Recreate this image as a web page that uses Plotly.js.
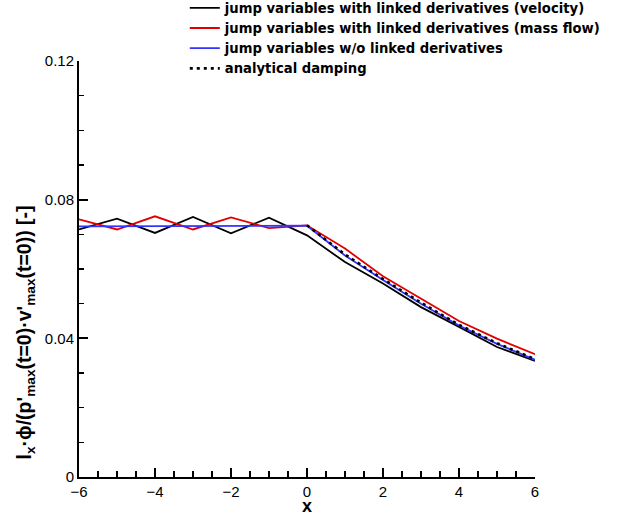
<!DOCTYPE html>
<html>
<head>
<meta charset="utf-8">
<script src="https://cdn.plot.ly/plotly-3.0.1.min.js"></script>
<style>html,body{margin:0;padding:0;background:#fff;}#chart{width:621px;height:516px;}</style>
</head>
<body>
<div id="chart"></div>
<script>
// x positions
const xFull = [-6, -5, -4, -3, -2, -1, 0, 1, 2, 3, 4, 5, 6];
const xRight = [0, 1, 2, 3, 4, 5, 6];

// series values
const velocity = [0.0714, 0.0745, 0.0704, 0.0750, 0.0703, 0.0748, 0.0697, 0.0620, 0.0558, 0.0490, 0.0433, 0.0375, 0.0335];
const massFlow = [0.0743, 0.0714, 0.0752, 0.0714, 0.0749, 0.0718, 0.0726, 0.0659, 0.0579, 0.0515, 0.0450, 0.0399, 0.0354];
const noLinked = [0.0723, 0.0723, 0.0723, 0.0723, 0.0723, 0.0724, 0.0725, 0.0639, 0.0568, 0.0500, 0.0437, 0.0384, 0.0338];
const analytical = [0.0726, 0.0642, 0.0571, 0.0503, 0.0439, 0.0386, 0.0340];

// labels
const seriesNames = [
  'jump variables with linked derivatives (velocity)',
  'jump variables with linked derivatives (mass flow)',
  'jump variables w/o linked derivatives',
  'analytical damping'
];
const xTitle = 'x';
const yTitle = "l<sub>x</sub>·ɸ/(p'<sub>max</sub>(t=0)·v'<sub>max</sub>(t=0)) [-]";

const font = 'Liberation Sans, Arial, sans-serif';

const traces = [
  {x: xFull, y: velocity, name: seriesNames[0], mode: 'lines', line: {color: '#000000', width: 1.8}},
  {x: xFull, y: massFlow, name: seriesNames[1], mode: 'lines', line: {color: '#e00000', width: 1.8}},
  {x: xFull, y: noLinked, name: seriesNames[2], mode: 'lines', line: {color: '#3333ff', width: 1.8}},
  {x: xRight, y: analytical, name: seriesNames[3], mode: 'lines', line: {color: '#000000', width: 2.6, dash: '3px,4px'}}
];

const layout = {
  width: 621, height: 516,
  margin: {l: 79, r: 86, t: 61, b: 39, pad: 0, autoexpand: false},
  paper_bgcolor: '#ffffff', plot_bgcolor: '#ffffff',
  font: {family: font, color: '#000', size: 14},
  showlegend: true,
  legend: {
    x: 0.232, y: 1.164, xanchor: 'left', yanchor: 'top',
    font: {family: 'DejaVu Sans, sans-serif', size: 13.2, color: '#000', weight: 'bold'},
    bgcolor: 'rgba(0,0,0,0)', borderwidth: 0,
    tracegroupgap: 0, itemwidth: 30
  },
  xaxis: {
    range: [-6, 6], showgrid: false, zeroline: false,
    showline: true, linecolor: '#000', linewidth: 2,
    tickmode: 'linear', tick0: -6, dtick: 2,
    ticks: 'inside', ticklen: 9, tickwidth: 2, tickcolor: '#000',
    tickfont: {family: font, size: 15, color: '#000'},
    minor: {tickmode: 'linear', tick0: -6, dtick: 0.5, ticks: 'inside', ticklen: 6, tickwidth: 1.3, tickcolor: '#000', showgrid: false},
    title: {text: xTitle, font: {family: font, size: 18, color: '#000', weight: 'bold'}, standoff: 0}
  },
  yaxis: {
    range: [0, 0.12], showgrid: false, zeroline: false,
    showline: true, linecolor: '#000', linewidth: 2,
    tickmode: 'linear', tick0: 0, dtick: 0.04,
    ticks: 'inside', ticklen: 9, tickwidth: 2, tickcolor: '#000',
    tickfont: {family: font, size: 15, color: '#000'},
    minor: {tickmode: 'linear', tick0: 0, dtick: 0.01, ticks: 'inside', ticklen: 5, tickwidth: 1.2, tickcolor: '#000', showgrid: false},
    title: {text: ''}
  },
  annotations: [{
    text: yTitle, textangle: -90,
    xref: 'paper', yref: 'paper', x: -0.118, y: 0.348,
    xanchor: 'center', yanchor: 'middle', showarrow: false,
    font: {family: font, size: 19.5, color: '#000', weight: 'bold'}
  }]
};

Plotly.newPlot('chart', traces, layout, {displayModeBar: false, staticPlot: true});
</script>
</body>
</html>
